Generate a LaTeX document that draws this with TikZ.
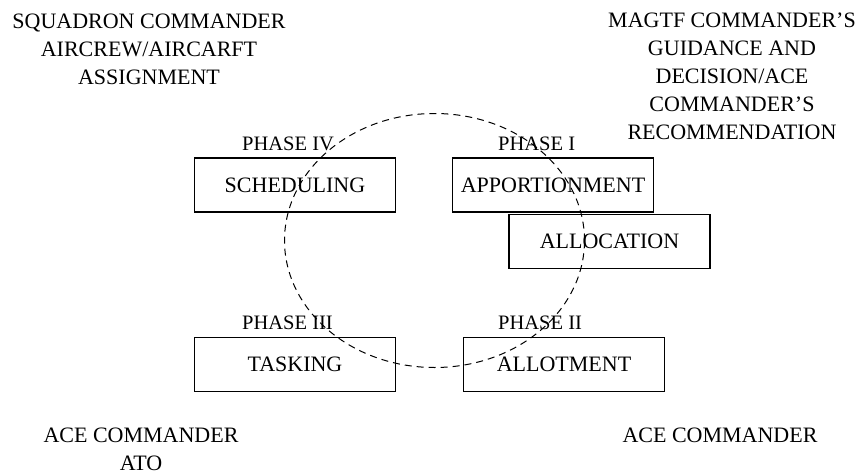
\documentclass[tikz,border=0pt]{standalone}
\usepackage{fontspec}
\setmainfont{Liberation Serif}

\begin{document}
\begin{tikzpicture}[x=1pt,y=-1pt,
  phasebox/.style={draw,line width=1.2pt,minimum width=201pt,minimum height=54pt,font=\fontsize{22}{28}\selectfont},
  phasename/.style={anchor=west,inner sep=0pt,font=\fontsize{20.5}{24}\selectfont},
  note/.style={align=center,inner sep=0pt,font=\fontsize{22}{28}\selectfont}]
\useasboundingbox (0,0) rectangle (860,474);
\node[phasebox] (sched) at (295,185) {SCHEDULING};
\node[phasebox] (appor) at (553,185) {APPORTIONMENT};
\node[phasebox] (alloc) at (609.5,241.5) {ALLOCATION};
\node[phasebox] (task) at (295,364.5) {TASKING};
\node[phasebox] (allot) at (564,364.5) {ALLOTMENT};
\node[phasename] (p4) at (242,144) {PHASE IV};
\node[phasename] (p1) at (498,144) {PHASE I};
\node[phasename] (p3) at (242,323) {PHASE III};
\node[phasename] (p2) at (498,323) {PHASE II};
\node[note] (sqn) at (149,49) {SQUADRON COMMANDER\\AIRCREW/AIRCARFT\\ASSIGNMENT};
\node[note] (magtf) at (732,76) {MAGTF COMMANDER'S\\GUIDANCE AND\\DECISION/ACE\\COMMANDER'S\\RECOMMENDATION};
\node[note] (ato) at (141,449) {ACE COMMANDER\\ATO};
\node[note] (ace) at (720,435) {ACE COMMANDER};
% cycle of phases
\draw[line width=1pt,dash pattern=on 7pt off 5pt] (434.5,240.5) ellipse [x radius=150pt,y radius=127pt];
\end{tikzpicture}
\end{document}
